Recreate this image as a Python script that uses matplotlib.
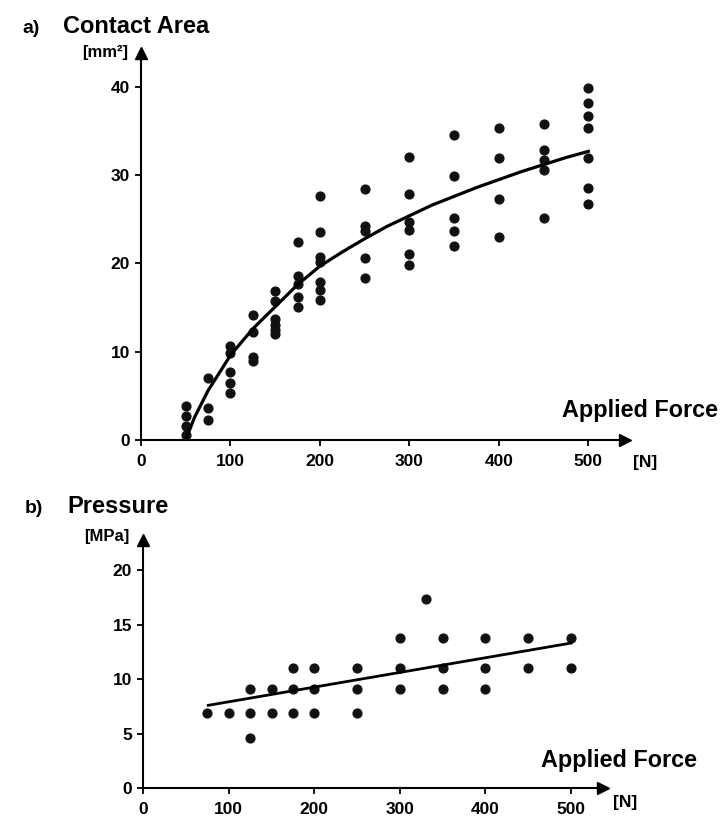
import matplotlib
matplotlib.use("Agg")
import matplotlib.pyplot as plt

plt.rcParams['font.family'] = ['Liberation Sans', 'DejaVu Sans']
plt.rcParams['font.weight'] = 'bold'

# a) contact area [mm^2] vs applied force [N]
area_force = [50, 50, 50, 50,
              75, 75, 75,
              100, 100, 100, 100, 100,
              125, 125, 125, 125,
              150, 150, 150, 150, 150, 150,
              175, 175, 175, 175, 175,
              200, 200, 200, 200, 200, 200, 200,
              250, 250, 250, 250, 250,
              300, 300, 300, 300, 300, 300,
              350, 350, 350, 350, 350,
              400, 400, 400, 400,
              450, 450, 450, 450, 450,
              500, 500, 500, 500, 500, 500, 500]
area_mm2 = [3.8, 2.7, 1.6, 0.6,
            7.0, 3.6, 2.3,
            10.7, 9.8, 7.7, 6.4, 5.3,
            14.2, 12.2, 9.4, 8.9,
            16.9, 15.7, 13.7, 13.0, 12.5, 12.0,
            22.4, 18.6, 17.7, 16.2, 15.1,
            27.6, 23.6, 20.7, 20.2, 17.9, 17.0, 15.9,
            28.4, 24.2, 23.7, 20.6, 18.3,
            32.1, 27.9, 24.7, 23.8, 21.1, 19.8,
            34.5, 29.9, 25.2, 23.7, 22.0,
            35.3, 31.9, 27.3, 23.0,
            35.8, 32.9, 31.7, 30.6, 25.1,
            39.9, 38.2, 36.7, 35.4, 32.0, 28.6, 26.7]

# fitted curve
area_fit_force = [51, 60, 75, 100, 125, 150, 175, 200, 225, 250, 275, 300,
                  325, 350, 375, 400, 425, 450, 475, 500]
area_fit_mm2 = [0.3, 2.6, 5.6, 9.6, 12.6, 15.1, 17.6, 19.7, 21.3, 22.8, 24.2, 25.4,
                26.6, 27.6, 28.6, 29.5, 30.4, 31.2, 32.0, 32.7]

# b) pressure [MPa] vs applied force [N]
press_force = [75, 100,
               125, 125, 125,
               150, 150,
               175, 175, 175,
               200, 200, 200,
               250, 250, 250,
               300, 300, 300,
               330,
               350, 350, 350,
               400, 400, 400,
               450, 450,
               500, 500]
press_mpa = [6.9, 6.9,
             9.1, 6.9, 4.6,
             9.1, 6.9,
             11.0, 9.1, 6.9,
             11.0, 9.1, 6.9,
             11.0, 9.1, 6.9,
             13.8, 11.0, 9.1,
             17.3,
             13.8, 11.0, 9.1,
             13.8, 11.0, 9.1,
             13.8, 11.0,
             13.8, 11.0]

press_fit_force = [76, 500]
press_fit_mpa = [7.6, 13.3]

area_xticks = [0, 100, 200, 300, 400, 500]
area_yticks = [0, 10, 20, 30, 40]
press_xticks = [0, 100, 200, 300, 400, 500]
press_yticks = [0, 5, 10, 15, 20]

W, H = 720, 816
fig = plt.figure(figsize=(W / 100, H / 100), dpi=100)


def ftxt(x, y, s, **kw):
    fig.text(x / W, 1 - y / H, s, fontweight='bold', **kw)


def style_axis(ax, xticks, yticks):
    for side in ['top', 'right']:
        ax.spines[side].set_visible(False)
    for side in ['left', 'bottom']:
        ax.spines[side].set_linewidth(1.5)
    ax.set_xticks(xticks)
    ax.set_yticks(yticks)
    ax.tick_params(direction='out', length=4, width=1.3, labelsize=12.5, pad=4)
    ax.tick_params(axis='x', pad=6)
    for lab in ax.get_xticklabels() + ax.get_yticklabels():
        lab.set_fontweight('bold')
    # arrow heads
    ax.plot(1, 0, '>', color='black', markersize=9, transform=ax.transAxes, clip_on=False)
    ax.plot(0, 1, '^', color='black', markersize=9, transform=ax.transAxes, clip_on=False)


# top panel
ax1 = fig.add_axes([141 / W, 0.4608, 484 / W, 0.4743])
ax1.scatter(area_force, area_mm2, s=40, color='#111111', zorder=3)
ax1.plot(area_fit_force, area_fit_mm2, color='black', linewidth=2.3, zorder=4)
ax1.set_xlim(0, 541)
ax1.set_ylim(0, 43.85)
style_axis(ax1, area_xticks, area_yticks)

# bottom panel
ax2 = fig.add_axes([143.3 / W, 0.034, 459.7 / W, 0.3043])
ax2.scatter(press_force, press_mpa, s=40, color='#111111', zorder=3)
ax2.plot(press_fit_force, press_fit_mpa, color='black', linewidth=2.0, zorder=4)
ax2.set_xlim(0, 537.5)
ax2.set_ylim(0, 22.75)
style_axis(ax2, press_xticks, press_yticks)

# titles and axis labels
ftxt(22, 33, "a)", fontsize=14, va='baseline')
ftxt(63, 33, "Contact Area", fontsize=17, va='baseline')
ftxt(128, 52, "[mm²]", fontsize=12, ha='right', va='center')
ftxt(718, 417, "Applied Force", fontsize=16.8, ha='right', va='baseline')
ftxt(645, 463, "[N]", fontsize=12.5, ha='center', va='center')

ftxt(25, 513, "b)", fontsize=14, va='baseline')
ftxt(67, 513, "Pressure", fontsize=17, va='baseline')
ftxt(129, 537, "[MPa]", fontsize=12, ha='right', va='center')
ftxt(697, 767, "Applied Force", fontsize=16.8, ha='right', va='baseline')
ftxt(625, 802, "[N]", fontsize=12.5, ha='center', va='center')

fig.savefig("out.png", dpi=100)
